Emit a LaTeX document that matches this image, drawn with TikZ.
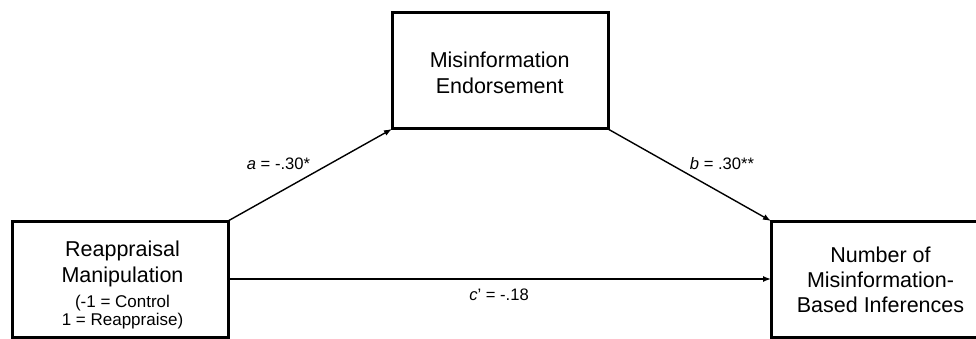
\documentclass[tikz,border=0pt]{standalone}
\usepackage{fontspec}
\setmainfont{Liberation Sans}
\usetikzlibrary{arrows.meta}
\begin{document}
\begin{tikzpicture}[x=1pt,y=-1pt,
  varbox/.style={draw,line width=3pt,outer sep=0pt,inner sep=0pt,minimum height=116pt},
  boxtext/.style={align=center,font=\fontsize{21.5}{25.4}\selectfont,inner sep=0pt},
  path/.style={line width=1.4pt,-{Latex[length=8pt,width=6pt]}},
  coef/.style={font=\fontsize{16.6}{19}\selectfont,inner sep=0pt}]
\useasboundingbox (0,0) rectangle (976,339);
\clip (0,0) rectangle (976,339);
% boxes
\node[varbox,minimum width=216pt] (x) at (120,279) {};
\node[varbox,minimum width=216pt] (m) at (500,71) {};
\node[varbox,minimum width=219pt] (y) at (880.5,279) {};
% box texts
\node[boxtext] (xt) at (122.5,285.3) {Reappraisal\\[0.2pt]Manipulation\\[-0.4pt]{\fontsize{17}{19}\selectfont (-1 = Control}\\[-6.7pt]{\fontsize{17}{19}\selectfont 1 = Reappraise)}};
\node[boxtext] (mt) at (499.7,72.4) {Misinformation\\[0.6pt]Endorsement};
\node[boxtext] (yt) at (880.5,279.6) {Number of\\[-0.6pt]Misinformation-\\[-0.6pt]Based Inferences};
% paths
\draw[path] (x.north east) -- (m.south west);
\draw[path] (m.south east) -- (y.north west);
\draw[path] (x.east) -- (y.west);
% coefficients
\node[coef] (a) at (278.5,164) {\textit{a} = -.30*};
\node[coef] (b) at (722,163.5) {\textit{b} = .30**};
\node[coef] (c) at (499,295) {\textit{c}’ = -.18};
\end{tikzpicture}
\end{document}
